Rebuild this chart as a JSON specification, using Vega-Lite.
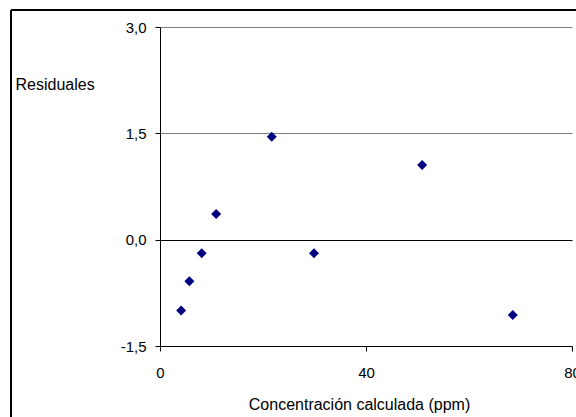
{
  "$schema": "https://vega.github.io/schema/vega-lite/v6.json",
  "width": 412,
  "height": 319,
  "autosize": {"type": "none"},
  "padding": {"left": 160, "top": 27, "right": 4, "bottom": 71},
  "background": "white",
  "config": {
    "view": {"stroke": null},
    "locale": {"number": {"decimal": ",", "thousands": ".", "grouping": [3], "currency": ["", " €"], "minus": "-"}},
    "axis": {
      "labelFont": "Liberation Sans",
      "titleFont": "Liberation Sans",
      "labelFontSize": 15,
      "titleFontSize": 16,
      "labelColor": "black",
      "titleColor": "black",
      "titleFontWeight": "normal",
      "domainColor": "black",
      "tickColor": "black",
      "domainWidth": 1,
      "tickWidth": 1
    }
  },
  "data": {
    "values": [
      {"conc": 4.1, "res": -1.0},
      {"conc": 5.7, "res": -0.587},
      {"conc": 8.1, "res": -0.19},
      {"conc": 10.9, "res": 0.363},
      {"conc": 21.7, "res": 1.453},
      {"conc": 29.9, "res": -0.19},
      {"conc": 50.9, "res": 1.054},
      {"conc": 68.5, "res": -1.062}
    ]
  },
  "layer": [
    {
      "mark": {"type": "rect", "fill": null, "stroke": "black", "strokeWidth": 1, "clip": false},
      "encoding": {
        "x": {"datum": -28.93, "type": "quantitative", "scale": {"domain": [0, 80], "nice": false}},
        "x2": {"datum": 95},
        "y": {"datum": 3.24, "type": "quantitative", "scale": {"domain": [-1.5, 3], "nice": false}},
        "y2": {"datum": -3.5}
      }
    },
    {
      "mark": {"type": "point", "shape": "diamond", "filled": true, "color": "#000080", "size": 100, "opacity": 1},
      "encoding": {
        "x": {
          "field": "conc",
          "type": "quantitative",
          "scale": {"domain": [0, 80], "nice": false},
          "axis": {
            "values": [0, 40, 80],
            "format": "d",
            "grid": false,
            "tickSize": 5,
            "labelPadding": 14,
            "labelFlush": false,
            "title": "Concentración calculada (ppm)",
            "titleAnchor": null,
            "titleAlign": "center",
            "titleBaseline": "alphabetic",
            "titleX": 199,
            "titleY": 63
          }
        },
        "y": {
          "field": "res",
          "type": "quantitative",
          "scale": {"domain": [-1.5, 3], "nice": false},
          "axis": {
            "values": [-1.5, 0, 1.5, 3],
            "format": ".1f",
            "grid": true,
            "gridColor": {"condition": {"test": "datum.value === 0", "value": "black"}, "value": "#808080"},
            "gridWidth": 1,
            "tickSize": 5,
            "labelPadding": 9,
            "labelFlush": false,
            "title": "Residuales",
            "titleAngle": 0,
            "titleAlign": "left",
            "titleBaseline": "alphabetic",
            "titleX": -145,
            "titleY": 62
          }
        }
      }
    }
  ]
}
